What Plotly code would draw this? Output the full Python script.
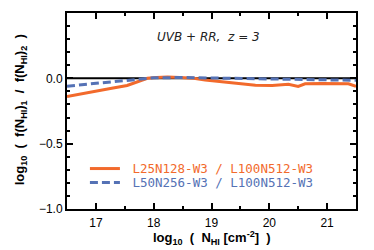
import plotly.graph_objects as go

# Orange: L25N128-W3 / L100N512-W3
x_orange = [16.5, 16.95, 17.25, 17.54, 17.77, 17.89, 18.05, 18.24, 18.45, 18.69, 18.89, 19.2, 19.46, 19.76, 20.05, 20.33, 20.5, 20.62, 20.91, 21.19, 21.37, 21.5]
y_orange = [-0.139, -0.10, -0.078, -0.055, -0.017, 0.0, 0.006, 0.01, 0.006, 0.0, -0.012, -0.025, -0.038, -0.052, -0.055, -0.045, -0.062, -0.042, -0.04, -0.04, -0.042, -0.062]
# Blue dashed: L50N256-W3 / L100N512-W3
x_blue = [16.5, 16.95, 17.25, 17.54, 17.8, 18.0, 18.5, 19.0, 19.5, 20.0, 20.5, 21.0, 21.5]
y_blue = [-0.06, -0.04, -0.028, -0.017, 0.0, 0.004, 0.006, 0.003, 0.0, -0.006, -0.01, -0.012, -0.015]

names = ["L25N128-W3 / L100N512-W3", "L50N256-W3 / L100N512-W3"]
orange = "#F26A2C"
blue = "#5572B5"

fig = go.Figure()
fig.add_trace(go.Scatter(x=[16.5, 21.5], y=[0, 0], mode="lines",
                         line=dict(color="black", width=2), showlegend=False))
fig.add_trace(go.Scatter(x=x_orange, y=y_orange, mode="lines",
                         line=dict(color=orange, width=3), legend="legend",
                         name=f"<span style='color:{orange}'>\u00a0{names[0]}</span>"))
fig.add_trace(go.Scatter(x=x_blue, y=y_blue, mode="lines",
                         line=dict(color=blue, width=3, dash="8px,4px"), legend="legend2",
                         name=f"<span style='color:{blue}'>\u00a0{names[1]}</span>"))

fig.add_annotation(text="<i>UVB + RR,  z = 3</i>", x=0.49, y=0.922, xref="paper", yref="paper",
                   showarrow=False, font=dict(size=12, color="#222222", family="DejaVu Sans"))
fig.add_annotation(text="<b>log<sub>10</sub>  (  N<sub>HI</sub> [cm<sup>-2</sup>]  )</b>",
                   x=0.501, y=-0.146, xref="paper", yref="paper", showarrow=False,
                   xanchor="center", yanchor="middle",
                   font=dict(size=13, color="black", family="Liberation Sans"))
fig.add_annotation(text="<b>log<sub>10</sub>  (  f(N<sub>HI</sub>)<sub>1</sub>  /  f(N<sub>HI</sub>)<sub>2</sub>  )</b>",
                   x=-0.1616, y=0.505, xref="paper", yref="paper", showarrow=False, textangle=-90,
                   xanchor="center", yanchor="middle",
                   font=dict(size=13, color="black", family="Liberation Sans"))

axis_common = dict(showgrid=False, zeroline=False, showline=True, linecolor="black", linewidth=2,
                   mirror="ticks", ticks="inside", ticklen=6, tickwidth=1.5, tickcolor="black",
                   automargin=False,
                   tickfont=dict(size=12, color="black", family="Liberation Sans"))
fig.update_xaxes(range=[16.5, 21.5], tickvals=[17, 18, 19, 20, 21], ticklabelstandoff=2,
                 minor=dict(dtick=0.5, tick0=17, ticks="inside", ticklen=3, tickcolor="black"),
                 **axis_common)
fig.update_yaxes(range=[-1.0, 0.5], tickvals=[-1.0, -0.5, 0.0, 0.5], ticktext=["\u22121.0", "\u22120.5", "0.0", "0.5"],
                 minor=dict(dtick=0.1, ticks="inside", ticklen=3, tickcolor="black"),
                 **axis_common)

leg_common = dict(x=0.062, xanchor="left", yanchor="top", bgcolor="rgba(0,0,0,0)",
                  font=dict(size=12.5, family="DejaVu Sans Mono"), itemwidth=30)
fig.update_layout(width=366, height=242, margin=dict(l=58.7, r=18.3, t=4.7, b=40.7),
                  plot_bgcolor="white", paper_bgcolor="white",
                  legend=dict(y=0.281, **leg_common),
                  legend2=dict(y=0.21, **leg_common))

fig.write_html("out.html")
